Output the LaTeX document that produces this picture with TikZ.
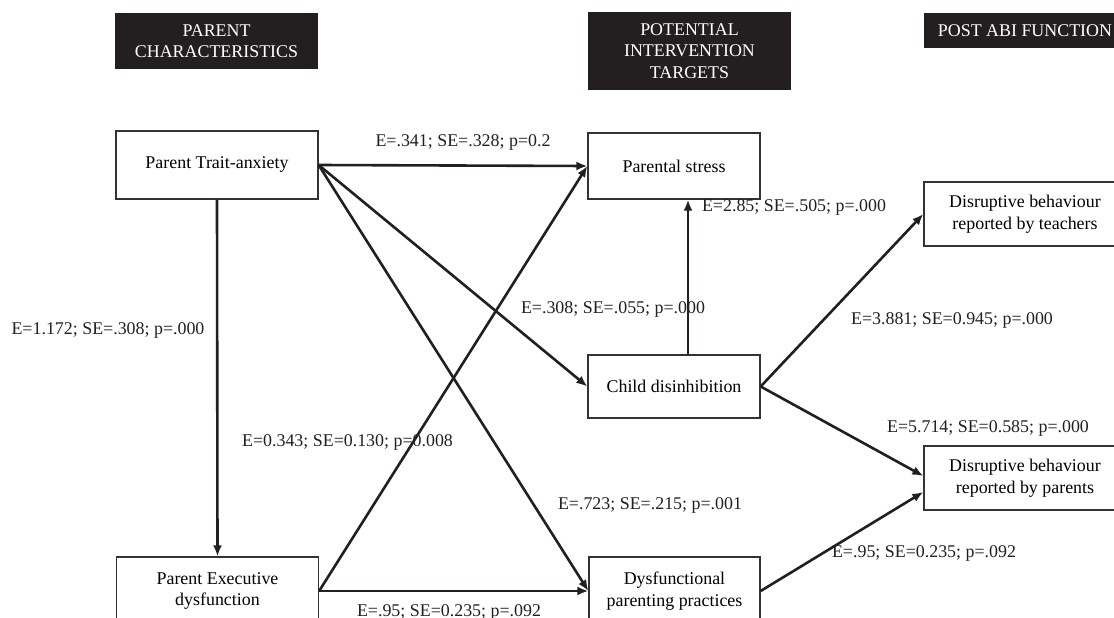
\documentclass[tikz,border=0pt]{standalone}
\usepackage{fontspec}
\setmainfont{Liberation Serif}
\usetikzlibrary{arrows.meta}
\definecolor{hdrcol}{HTML}{231F20}
\definecolor{boxline}{HTML}{333333}
\begin{document}
\begin{tikzpicture}[x=1pt,y=-1pt,
  txt/.style={font=\fontsize{17.9}{21.5}\selectfont},
  box/.style={txt,draw=boxline,line width=1.3pt,fill=white,align=center,inner sep=0pt,minimum width=202pt,minimum height=66pt},
  hdr/.style={txt,fill=hdrcol,text=white,align=center,inner sep=0pt,minimum width=203pt},
  arr/.style={line width=2.6pt,draw=hdrcol,-{Latex[length=11pt,width=9pt]}},
  lbl/.style={txt,inner sep=0pt,text=hdrcol}]
\useasboundingbox (0,0) rectangle (1114,618);
\clip (0,0) rectangle (1114,618);
\fill[white] (0,0) rectangle (1114,618);

% headers
\node[hdr,minimum height=56pt] (h1) at (216.5,41) {PARENT\\CHARACTERISTICS};
\node[hdr,minimum height=78pt] (h2) at (689.5,51) {POTENTIAL\\INTERVENTION\\TARGETS};
\node[hdr,minimum height=35pt] (h3) at (1025,30.5) {POST ABI FUNCTION};

% boxes
\node[box,minimum height=68pt] (anx) at (217,165) {Parent Trait-anxiety};
\node[box,minimum height=68pt] (exe) at (217.5,591) {Parent Executive\\dysfunction};
\node[box,minimum width=172pt] (stress) at (674,166) {Parental stress};
\node[box,minimum width=172pt,minimum height=63pt] (child) at (674,386.5) {Child disinhibition};
\node[box,minimum width=171pt,minimum height=68pt] (dys) at (674.5,591) {Dysfunctional\\parenting practices};
\node[box,minimum height=64pt] (teach) at (1025,214) {Disruptive behaviour\\reported by teachers};
\node[box,minimum height=64pt] (par) at (1025,478) {Disruptive behaviour\\reported by parents};

% connectors
\draw[arr] (anx.east) -- (stress.west);
\draw[arr] (anx.east) -- (child.west);
\draw[arr] (anx.east) -- (dys.west);
\draw[arr] (anx.south) -- (exe.north);
\draw[arr] (exe.east) -- (stress.west);
\draw[arr] (exe.east) -- (dys.west);
\draw[arr] ([xshift=14pt]child.north) -- ([xshift=14pt]stress.south);
\draw[arr] (child.east) -- (teach.west);
\draw[arr] (child.east) -- ([yshift=2pt]par.west);
\draw[arr] (dys.east) -- ([yshift=-14pt]par.west);

% labels
\node[lbl] (l1) at (463,142) {E=.341; SE=.328; p=0.2};
\node[lbl] (l2) at (794,207) {E=2.85; SE=.505; p=.000};
\node[lbl] (l3) at (108,330) {E=1.172; SE=.308; p=.000};
\node[lbl] (l4) at (613,309) {E=.308; SE=.055; p=.000};
\node[lbl] (l5) at (952,320) {E=3.881; SE=0.945; p=.000};
\node[lbl] (l6) at (347.5,442) {E=0.343; SE=0.130; p=0.008};
\node[lbl] (l7) at (988,428) {E=5.714; SE=0.585; p=.000};
\node[lbl] (l8) at (650,505) {E=.723; SE=.215; p=.001};
\node[lbl] (l9) at (449,612) {E=.95; SE=0.235; p=.092};
\node[lbl] (l10) at (924,553) {E=.95; SE=0.235; p=.092};
\end{tikzpicture}
\end{document}
